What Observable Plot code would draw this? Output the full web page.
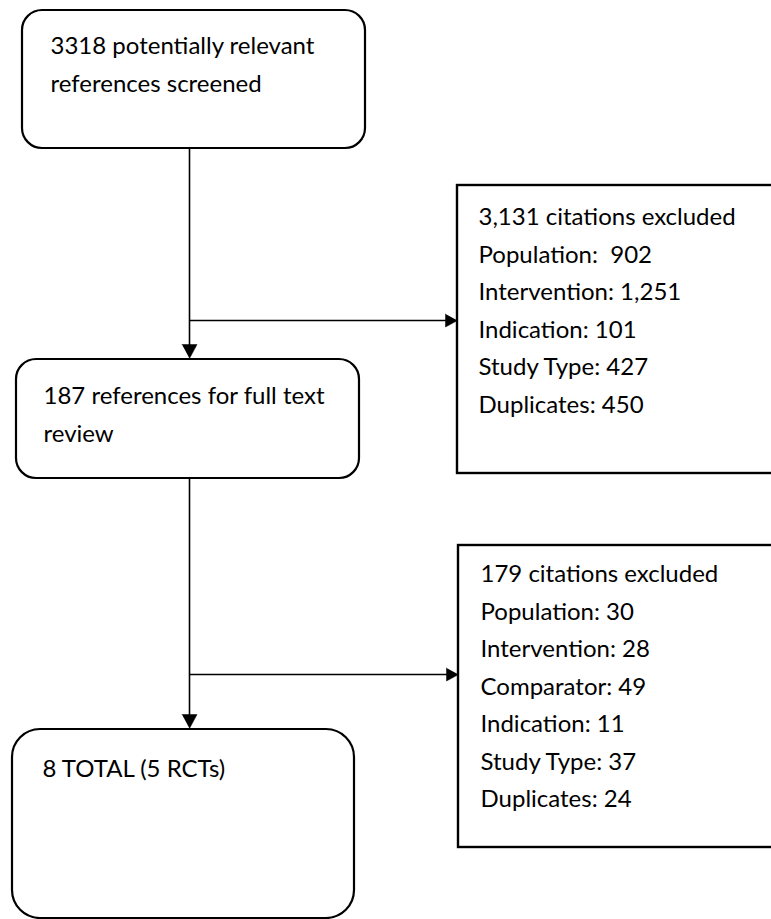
<!DOCTYPE html>
<html>
<head>
<meta charset="utf-8">
<script src="https://cdn.jsdelivr.net/npm/d3@7"></script>
<script src="https://cdn.jsdelivr.net/npm/@observablehq/plot@0.6"></script>
<style>
  html, body { margin: 0; padding: 0; background: #fff; overflow: hidden; }
  svg text { white-space: pre; }
</style>
</head>
<body>
<div id="chart"></div>
<script>
// ---- content ----
const stageLabels = [
  ["3318 potentially relevant", "references screened"],
  ["187 references for full text", "review"],
  ["8 TOTAL (5 RCTs)"]
];
const exclusion1Lines = [
  "3,131 citations excluded",
  "Population:  902",
  "Intervention: 1,251",
  "Indication: 101",
  "Study Type: 427",
  "Duplicates: 450"
];
const exclusion2Lines = [
  "179 citations excluded",
  "Population: 30",
  "Intervention: 28",
  "Comparator: 49",
  "Indication: 11",
  "Study Type: 37",
  "Duplicates: 24"
];

// ---- layout (pixel space of the 771x919 frame) ----
const stageBoxes = [
  {x1: 22, x2: 365, y1: 10, y2: 148, r: 20, tx: 50, ty: 46},
  {x1: 16, x2: 359, y1: 359, y2: 478, r: 20, tx: 43, ty: 396},
  {x1: 12, x2: 354, y1: 729, y2: 918, r: 28, tx: 42, ty: 769}
];
const exclBoxes = [
  {x1: 457, x2: 800, y1: 185, y2: 473, tx: 478, ty: 217, lines: exclusion1Lines},
  {x1: 458, x2: 800, y1: 545, y2: 847, tx: 480, ty: 574, lines: exclusion2Lines}
];
const lineStep = 37.5;
const spineX = 189;
const connectors = [
  {x1: spineX, y1: 148, x2: spineX, y2: 350},
  {x1: spineX, y1: 478, x2: spineX, y2: 720},
  {x1: spineX, y1: 320, x2: 448, y2: 320},
  {x1: spineX, y1: 674, x2: 449, y2: 674}
];
// arrow tips: direction "down" or "right"
const tips = [
  {x: spineX, y: 358, dir: "down"},
  {x: spineX, y: 728, dir: "down"},
  {x: 457, y: 320, dir: "right"},
  {x: 458, y: 674, dir: "right"}
];
const heads = tips.flatMap((t, i) => {
  if (t.dir === "down") {
    return [
      {id: i, x: t.x - 7.5, y: t.y - 14},
      {id: i, x: t.x + 7.5, y: t.y - 14},
      {id: i, x: t.x, y: t.y}
    ];
  }
  return [
    {id: i, x: t.x - 12, y: t.y - 6.5},
    {id: i, x: t.x - 12, y: t.y + 6.5},
    {id: i, x: t.x, y: t.y}
  ];
});

const stageText = stageBoxes.flatMap((b, i) =>
  stageLabels[i].map((s, j) => ({x: b.tx, y: b.ty + j * lineStep, text: s})));
const exclText = exclBoxes.flatMap(b =>
  b.lines.map((s, j) => ({x: b.tx, y: b.ty + j * lineStep, text: s})));

const font = "Lato, 'Open Sans', sans-serif";
const fs = 24;

const chart = Plot.plot({
  width: 771,
  height: 919,
  margin: 0,
  style: {background: "#fff", overflow: "hidden"},
  x: {domain: [0, 771], range: [0, 771], axis: null},
  y: {domain: [0, 919], range: [0, 919], axis: null},
  marks: [
    Plot.link(connectors, {x1: "x1", y1: "y1", x2: "x2", y2: "y2", stroke: "#000", strokeWidth: 1.6}),
    Plot.line(heads, {x: "x", y: "y", z: "id", fill: "#000", stroke: "#000", strokeWidth: 0.5}),
    Plot.rect(stageBoxes.slice(0, 2), {x1: "x1", x2: "x2", y1: "y1", y2: "y2", rx: 20, fill: "none", stroke: "#000", strokeWidth: 2.2}),
    Plot.rect(stageBoxes.slice(2), {x1: "x1", x2: "x2", y1: "y1", y2: "y2", rx: 28, fill: "none", stroke: "#000", strokeWidth: 2.2, clip: true}),
    Plot.rect(exclBoxes, {x1: "x1", x2: "x2", y1: "y1", y2: "y2", fill: "none", stroke: "#000", strokeWidth: 2.4, clip: true}),
    Plot.text(stageText, {x: "x", y: "y", text: "text", textAnchor: "start", fontSize: fs, fontFamily: font, fill: "#000"}),
    Plot.text(exclText, {x: "x", y: "y", text: "text", textAnchor: "start", fontSize: fs, fontFamily: font, fill: "#000"})
  ]
});
document.getElementById("chart").appendChild(chart);
</script>
</body>
</html>
